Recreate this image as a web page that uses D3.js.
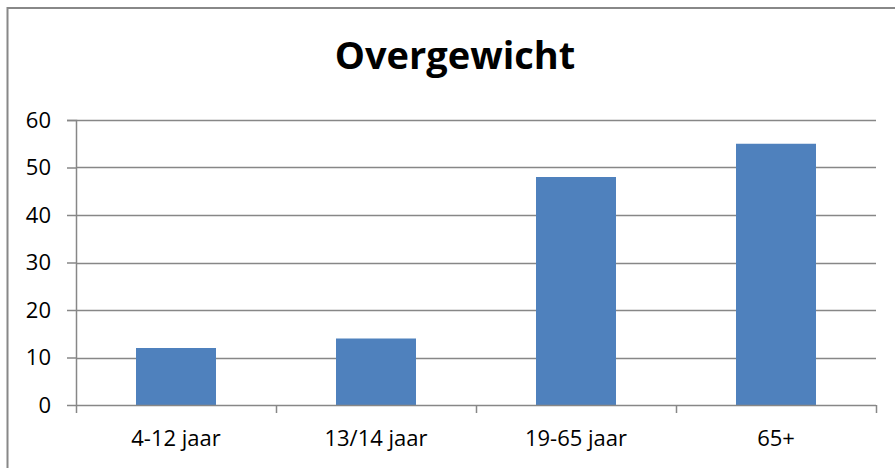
<!DOCTYPE html>
<html>
<head>
<meta charset="utf-8">
<script src="https://cdn.jsdelivr.net/npm/d3@7"></script>
<style>
  body { margin: 0; background: #fff; }
  text { font-family: "Open Sans", "Liberation Sans", sans-serif; fill: #000; }
</style>
</head>
<body>
<div id="chart"></div>
<script>
// Data
const categories = ["4-12 jaar", "13/14 jaar", "19-65 jaar", "65+"];
const values = [12, 14, 48, 55];
const yTicks = [0, 10, 20, 30, 40, 50, 60];
const title = "Overgewicht";

const W = 895, H = 468;
const margin = { top: 120, right: 19, bottom: 63, left: 76 };
const width = W - margin.left - margin.right;
const height = H - margin.top - margin.bottom;

const root = d3.select("#chart")
    .append("svg")
    .attr("width", W)
    .attr("height", H);

// outer frame
root.append("rect")
    .attr("x", 7.5)
    .attr("y", 8)
    .attr("width", 920)
    .attr("height", 500)
    .style("fill", "none")
    .style("stroke", "#888")
    .style("stroke-width", 2);

root.append("text")
    .attr("x", 455)
    .attr("y", 69)
    .style("text-anchor", "middle")
    .style("font-size", "38px")
    .style("font-weight", "bold")
    .text(title);

const svg = root.append("g")
    .attr("transform", `translate(${margin.left},${margin.top})`);

// Scales
const xScale = d3.scaleBand()
    .domain(categories)
    .range([0, width])
    .paddingInner(0.6)
    .paddingOuter(0.3);

const xOuter = d3.scaleBand()
    .domain(categories)
    .range([0, width]);

const yScale = d3.scaleLinear()
    .domain([0, 60])
    .range([height, 0]);

// gridlines
svg.selectAll(".grid")
    .data(yTicks.filter(d => d > 0))
    .enter()
    .append("line")
    .attr("class", "grid")
    .attr("x1", 0)
    .attr("x2", width)
    .attr("y1", d => Math.round(yScale(d)) + 0.5)
    .attr("y2", d => Math.round(yScale(d)) + 0.5)
    .style("stroke", "#878787")
    .style("stroke-width", 1.5);

// bars
svg.selectAll(".bar")
    .data(values)
    .enter()
    .append("rect")
    .attr("class", "bar")
    .attr("x", (d, i) => xScale(categories[i]))
    .attr("width", xScale.bandwidth())
    .attr("y", d => yScale(d))
    .attr("height", d => height - yScale(d))
    .style("fill", "#4F81BD");

// y axis
const yAxis = svg.append("g")
    .call(d3.axisLeft(yScale).tickValues(yTicks).tickSize(9).tickPadding(16));
yAxis.select(".domain").style("stroke", "#878787").style("stroke-width", 1.5)
    .attr("d", `M-9,0.5H0.5V${height}`);
yAxis.selectAll(".tick line").style("stroke", "#878787").style("stroke-width", 1.5);
yAxis.selectAll(".tick text").style("font-size", "22px").style("font-family", "'Open Sans', sans-serif");

// x axis: ticks at category boundaries
const xAxis = svg.append("g")
    .attr("transform", `translate(0,${height})`);
xAxis.append("line")
    .attr("x1", 0).attr("x2", width)
    .attr("y1", 0.5).attr("y2", 0.5)
    .style("stroke", "#878787").style("stroke-width", 1.5);
const bounds = categories.map(c => xOuter(c)).concat([width]);
xAxis.selectAll(".xtick")
    .data(bounds)
    .enter()
    .append("line")
    .attr("x1", d => d + 0.5).attr("x2", d => d + 0.5)
    .attr("y1", 0).attr("y2", 8)
    .style("stroke", "#878787").style("stroke-width", 1.5);
xAxis.selectAll(".xlabel")
    .data(categories)
    .enter()
    .append("text")
    .attr("x", d => xOuter(d) + xOuter.bandwidth() / 2)
    .attr("y", 41)
    .style("text-anchor", "middle")
    .style("font-size", "22px")
    .text(d => d);
</script>
</body>
</html>
